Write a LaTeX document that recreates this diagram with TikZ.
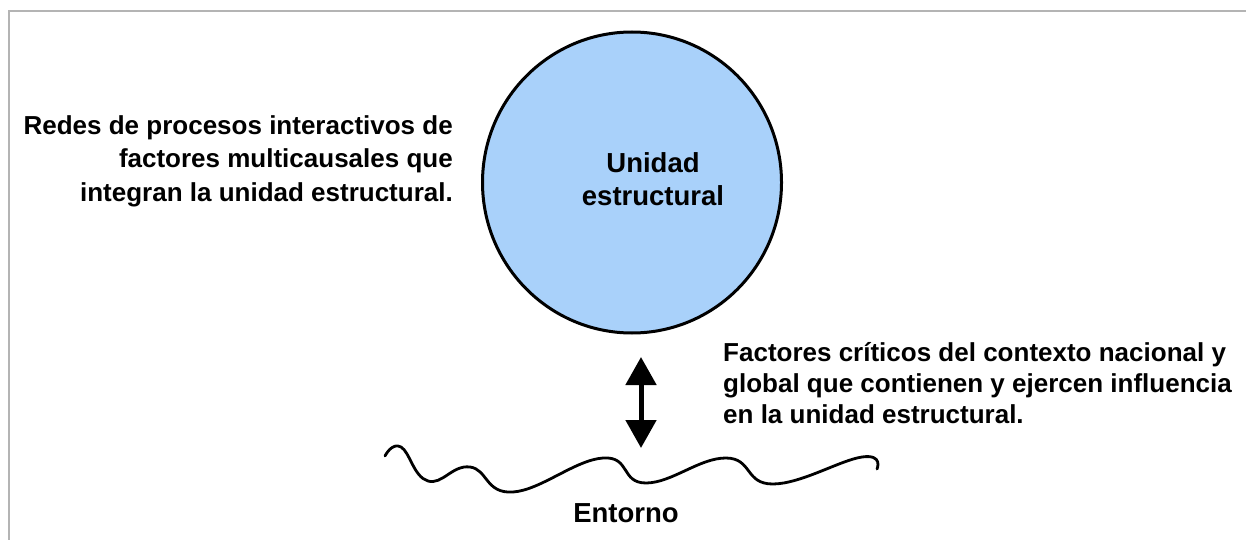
\documentclass[tikz,border=0pt]{standalone}
\usepackage{fontspec}
\setmainfont{Liberation Sans}
\usetikzlibrary{arrows.meta,shapes.geometric}
\definecolor{cellblue}{RGB}{169,209,250}
\definecolor{framegray}{RGB}{180,180,180}
\tikzset{
  frameline/.style={draw=framegray, line width=1.5pt},
  unitcircle/.style={draw=black, line width=3pt, fill=cellblue},
  lbl/.style={inner sep=0pt, font=\bfseries\fontsize{26}{33.5}\selectfont},
  wave/.style={draw=black, line width=2.8pt, line cap=round, line join=round},
  bigarrow/.style={line width=5pt, {Triangle[length=28pt 0,width=30pt 0]}-{Triangle[length=28pt 0,width=30pt 0]}}
}
\begin{document}
\begin{tikzpicture}[x=1pt,y=-1pt]
\useasboundingbox (0,0) rectangle (1246,540);
\fill[white] (0,0) rectangle (1246,540);
\draw[frameline] (9,540) -- (9,11) -- (1246,11);
\node[unitcircle, ellipse, minimum width=299pt, minimum height=301pt, inner sep=0pt] (unit) at (632,182.5) {};
\node[lbl, align=center, anchor=base, font=\bfseries\fontsize{27.5}{33}\selectfont] (unitlbl) at (653,205) {Unidad\\estructural};
\node[lbl, align=right, anchor=base east] (left) at (453,201) {Redes de procesos interactivos de\\factores multicausales que\\integran la unidad estructural.};
\node[lbl, align=left, anchor=base west, font=\bfseries\fontsize{26}{30.7}\selectfont] (right) at (723,423) {Factores críticos del contexto nacional y\\global que contienen y ejercen influencia\\en la unidad estructural.};
\coordinate (atop) at (641,357);
\coordinate (abot) at (641,448);
\draw[bigarrow] (atop) -- (abot);
\draw[wave] plot[smooth, tension=0.75] coordinates {(385,456) (401,447) (428,481) (470,467) (513,492) (603,458) (646,483) (726,458) (773,484) (862,457) (877,469)};
\coordinate (envpos) at (626,522);
\node[lbl, anchor=base, font=\bfseries\fontsize{27.5}{30}\selectfont] (env) at (envpos) {Entorno};
\end{tikzpicture}
\end{document}
